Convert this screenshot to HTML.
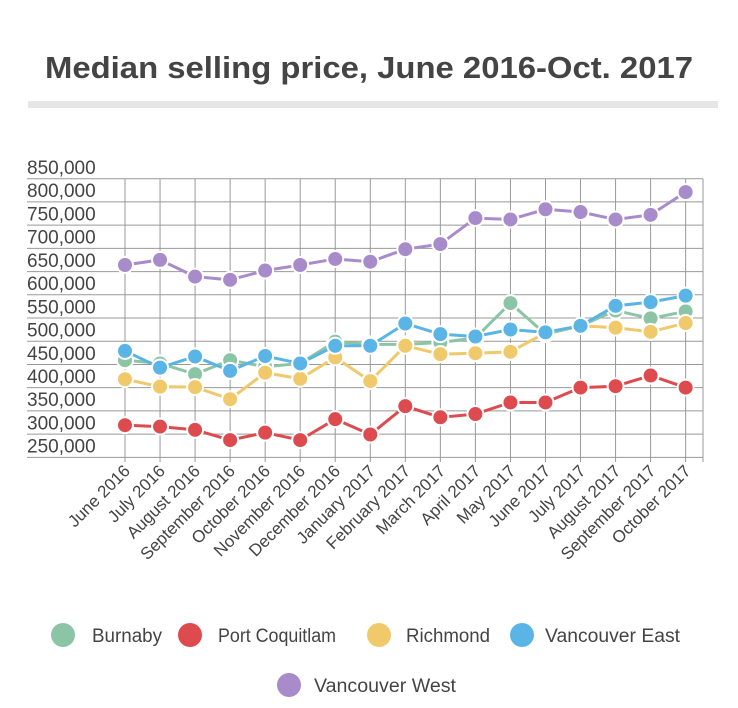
<!DOCTYPE html>
<html><head><meta charset="utf-8"><style>
body{margin:0;background:#fff;}
svg{display:block;font-family:"Liberation Sans",sans-serif;}
</style></head><body>
<svg id="chart" width="738" height="708" viewBox="0 0 738 708" xmlns="http://www.w3.org/2000/svg">
<text x="369" y="78" text-anchor="middle" font-size="31" font-weight="bold" fill="#444" textLength="648" lengthAdjust="spacingAndGlyphs">Median selling price, June 2016-Oct. 2017</text>
<rect x="28" y="101" width="690" height="7" fill="#e6e6e6"/>
<g id="grid"></g><g id="series"></g><g id="xlabels"></g><g id="legend"></g>
</svg>
<script>
const categories=["June 2016","July 2016","August 2016","September 2016","October 2016","November 2016","December 2016","January 2017","February 2017","March 2017","April 2017","May 2017","June 2017","July 2017","August 2017","September 2017","October 2017"];
const yTicks=[850000,800000,750000,700000,650000,600000,550000,500000,450000,400000,350000,300000,250000];
const seriesNames=["Burnaby","Port Coquitlam","Richmond","Vancouver East","Vancouver West"];
const burnaby=[434,427,404,434,420,427,474,468,468,472,482,557,490,508,541,524,539];
const portCoquitlam=[294,291,284,262,278,262,307,274,335,311,318,343,343,375,378,401,375];
const richmond=[393,377,376,350,407,394,440,389,465,447,449,452,493,508,504,495,514];
const vancouverEast=[454,418,442,411,443,427,465,465,513,490,485,500,494,508,551,559,573];
const vancouverWest=[639,650,614,607,627,639,652,646,673,684,740,737,759,753,737,747,796];
const colors=["#8cc5a5","#dd4b4f","#f0c96a","#5ab4e5","#a88bca"];
const NS="http://www.w3.org/2000/svg";
function x(i){return 125+i*35.04;}
function y(v){return 167+(850-v/ (v>5000?1000:1))*0.4644;}
function el(t,a,p){const e=document.createElementNS(NS,t);for(const k in a)e.setAttribute(k,a[k]);p.appendChild(e);return e;}
const grid=document.getElementById('grid');
yTicks.forEach(t=>{
  const gy=y(t)+11.7;
  const l=el('line',{x1:27,x2:703,y1:gy,y2:gy,stroke:'#999','stroke-width':1},grid);
  
  
  const tx=el('text',{x:27,y:y(t)+7,'font-size':19,fill:'#444'},grid);
  tx.textContent=t.toLocaleString('en-US');
  
  
});
const vl=el('line',{x1:703,x2:703,y1:y(850000)+11.7,y2:462,stroke:'#999'},grid);


const xl=document.getElementById('xlabels');
categories.forEach((c,i)=>{
  const l=el('line',{x1:x(i),x2:x(i),y1:y(850000)+11.7,y2:462,stroke:'#999','stroke-width':1},grid);
  
  
  const t=el('text',{x:x(i)+6,y:472,'font-size':17,fill:'#444','text-anchor':'end',transform:`rotate(-45 ${x(i)+6} 472)`},xl);
  t.textContent=c;
  
  
});
const data=[burnaby,portCoquitlam,richmond,vancouverEast,vancouverWest];
const sg=document.getElementById('series');
data.forEach((d,s)=>{
  const g=el('g',{},sg);
  
  
  const pl=el('polyline',{points:d.map((v,i)=>x(i)+','+y(v)).join(' '),fill:'none',stroke:colors[s],'stroke-width':3},g);
  
  
  d.forEach((v,i)=>{
    const c=el('circle',{cx:x(i),cy:y(v),r:8,fill:colors[s],stroke:'#fff','stroke-width':2},g);
    
    
  });
});
const lg=document.getElementById('legend');
const lpos=[[63,635,92,70],[190,635,218,118],[379,635,406,84],[522,635,545,135],[289,685,314,142]];
seriesNames.forEach((n,s)=>{
  const g=el('g',{},lg);
  
  
  el('circle',{cx:lpos[s][0],cy:lpos[s][1],r:12,fill:colors[s]},g);
  const t=el('text',{x:lpos[s][2],y:lpos[s][1]+7,'font-size':19,fill:'#444',textLength:lpos[s][3],lengthAdjust:'spacingAndGlyphs'},g);
  t.textContent=n;
});
</script>
</body></html>
